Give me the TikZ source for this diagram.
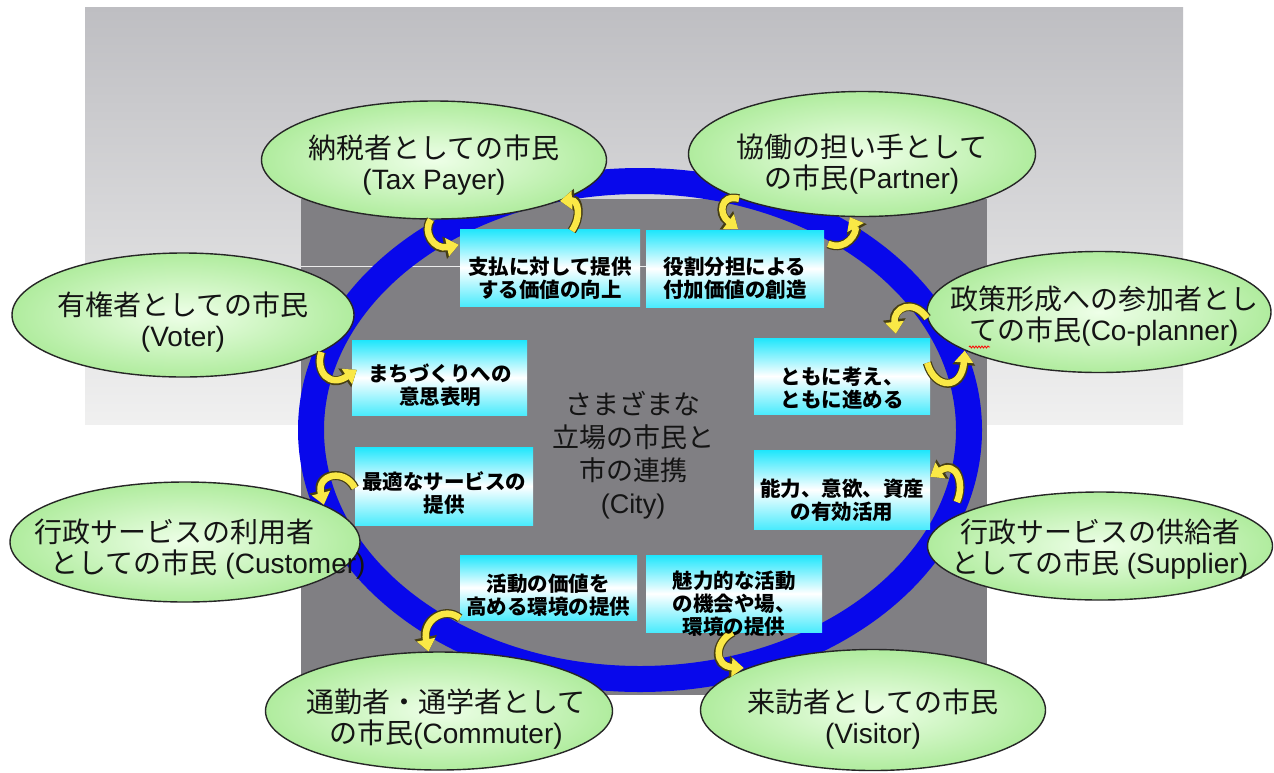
\documentclass[tikz,border=0pt]{standalone}
\usepackage{fontspec}
\setmainfont{Liberation Sans}
\newfontfamily\jp{Noto Sans CJK JP}
\usetikzlibrary{arrows.meta,shapes.geometric,calc,decorations.pathmorphing}
\definecolor{outertop}{RGB}{190,190,194}
\definecolor{outerbot}{RGB}{240,240,240}
\definecolor{darkbg}{RGB}{128,127,131}
\definecolor{ringblue}{RGB}{8,8,235}
\definecolor{boxcyan}{RGB}{30,230,252}
\definecolor{ellin}{RGB}{238,255,232}
\definecolor{ellout}{RGB}{176,236,158}
\definecolor{arrowy}{RGB}{250,232,70}
\definecolor{arrowedge}{RGB}{70,62,20}
\definecolor{txt}{RGB}{20,20,20}
\begin{document}
\begin{tikzpicture}[x=1pt,y=-1pt,
  citizen/.style={ellipse, draw=black!85, line width=1.4pt, inner color=ellin, outer color=ellout, inner sep=0pt},
  ringshape/.style={ellipse, draw=ringblue, line width=26pt, inner sep=0pt, minimum width=658pt, minimum height=498pt},
  valuebox/.style={rectangle, inner sep=0pt, top color=boxcyan, bottom color=boxcyan!80, middle color=white},
  btext/.style={align=center, text=black, font=\jp\bfseries\fontsize{20.5}{23}\selectfont},
  ctext/.style={align=center, text=txt, font=\fontsize{28}{31}\selectfont},
  yarrow/.style={draw=arrowy, line width=6.5pt, -{Triangle[length=12pt,width=18pt]},
    preaction={draw=arrowedge, line width=9pt, -{Triangle[length=14.5pt,width=22pt]}}}
]
\useasboundingbox (0,0) rectangle (1274,772);
\fill[white] (0,0) rectangle (1274,772);
\shade[top color=outertop, bottom color=outerbot] (85,7) rectangle (1183,424);
\fill[darkbg] (301,199) rectangle (987,695);
\draw[white!85!gray, line width=1pt] (301,266) -- (646,266);

% ring
\node[ringshape] (ring) at (640,430) {};

% value boxes
\node[valuebox, minimum width=180pt, minimum height=77pt] (b1) at (550,267.5) {};
\node[valuebox, minimum width=178pt, minimum height=77pt] (b2) at (735,268.5) {};
\node[valuebox, minimum width=175pt, minimum height=75pt] (b3) at (439.5,377.5) {};
\node[valuebox, minimum width=176pt, minimum height=76pt] (b4) at (842,376) {};
\node[valuebox, minimum width=178pt, minimum height=78pt] (b5) at (444,486) {};
\node[valuebox, minimum width=176pt, minimum height=79pt] (b6) at (842,489.5) {};
\node[valuebox, minimum width=177pt, minimum height=65pt] (b7) at (548.5,587.5) {};
\node[valuebox, minimum width=176pt, minimum height=77pt] (b8) at (734,593.5) {};

% citizen ellipses
\node[citizen, minimum width=345pt, minimum height=118pt] (tax) at (434,160) {};
\node[citizen, minimum width=347pt, minimum height=125pt] (partner) at (862,154) {};
\node[citizen, minimum width=342pt, minimum height=124pt] (voter) at (183,315) {};
\node[citizen, minimum width=344pt, minimum height=121pt] (coplan) at (1099,312) {};
\node[citizen, minimum width=350pt, minimum height=120pt] (customer) at (185,542) {};
\node[citizen, minimum width=345pt, minimum height=108pt] (supplier) at (1100,546) {};
\node[citizen, minimum width=347pt, minimum height=118pt] (commuter) at (439,711) {};
\node[citizen, minimum width=345pt, minimum height=121pt] (visitor) at (873,710) {};

% curved arrows
\draw[yarrow] (tax.-93) .. controls (422,232) and (434,250) .. ($(b1.north west)+(-1,16)$);
\draw[yarrow] ($(b1.north west)+(112,2)$) .. controls (582,216) and (578,200) .. (tax.-18);
\draw[yarrow] (partner.-160) .. controls (720,194) and (718,214) .. ($(b2.north)+(3,-1)$);
\draw[yarrow] ($(b2.north east)+(4,14)$) .. controls (846,252) and (858,232) .. (partner.-101);
\draw[yarrow] (coplan.-178) .. controls (913,298) and (893,308) .. ($(b4.north west)+(142,-4)$);
\draw[yarrow] ($(b4.north east)+(-3,25)$) .. controls (935,390) and (962,390) .. (coplan.-164);
\draw[yarrow] ($(supplier.west)+(30,-44)$) .. controls (965,484) and (957,460) .. ($(b6.north east)+(0,27)$);
\draw[yarrow] ($(b8.south)+(-1,0)$) .. controls (714,642) and (714,666) .. ($(visitor.west)+(44,-42)$);
\draw[yarrow] ($(b7.south west)+(0,-2)$) .. controls (445,606) and (422,620) .. (commuter.100);
\draw[yarrow] ($(b5.west)+(0,2)$) .. controls (345,468) and (316,474) .. (customer.15);
\draw[yarrow] (voter.-15) .. controls (315,372) and (330,388) .. ($(b3.north west)+(5,30)$);

% box texts
\node[btext] (b1t) at (550,278) {支払に対して提供\\する価値の向上};
\node[btext] (b2t) at (735,278) {役割分担による\\付加価値の創造};
\node[btext] (b3t) at (440,385) {まちづくりへの\\意思表明};
\node[btext] (b4t) at (842,388) {ともに考え、\\ともに進める};
\node[btext] (b5t) at (444,493) {最適なサービスの\\提供};
\node[btext] (b6t) at (842,500) {能力、意欲、資産\\の有効活用};
\node[btext] (b7t) at (548,595) {活動の価値を\\高める環境の提供};
\node[btext] (b8t) at (734,604) {魅力的な活動\\の機会や場、\\環境の提供};

% centre text
\node[align=center, text=black!92, font=\jp\fontsize{27}{33}\selectfont] (city) at (633,455) {さまざまな\\立場の市民と\\市の連携\\{\rmfamily (City)}};

% citizen texts
\node[ctext] (taxT) at (434,165) {{\jp 納税者としての市民}\\(Tax Payer)};
\node[ctext] (partnerT) at (862,164) {{\jp 協働の担い手として}\\{\jp の市民}(Partner)};
\node[ctext] (voterT) at (183,322) {{\jp 有権者としての市民}\\(Voter)};
\node[ctext] (coplanT) at (1104,316) {{\jp 政策形成への参加者とし}\\{\jp ての市民}(Co-planner)};
\node[ctext, align=left, anchor=west] (customerT) at (31,549) {{\jp 行政サービスの利用者}\\\hspace*{16pt}{\jp としての市民} (Customer)};
\node[ctext] (supplierT) at (1100,549) {{\jp 行政サービスの供給者}\\{\jp としての市民} (Supplier)};
\node[ctext] (commuterT) at (446,719) {{\jp 通勤者・通学者として}\\{\jp の市民}(Commuter)};
\node[ctext] (visitorT) at (873,719) {{\jp 来訪者としての市民}\\(Visitor)};

% spell-check squiggle
\draw[red, line width=0.8pt, decorate, decoration={snake, amplitude=1pt, segment length=3pt}] (969,347) -- (990,347);
\end{tikzpicture}
\end{document}
